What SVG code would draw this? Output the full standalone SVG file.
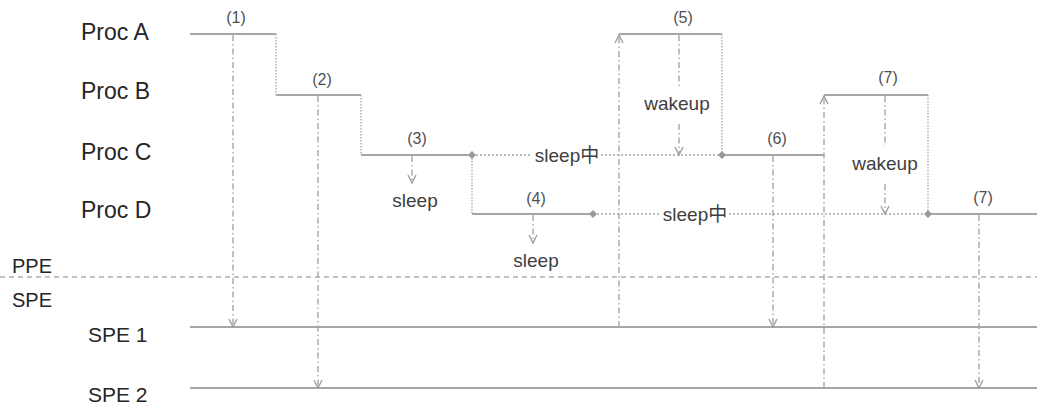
<svg xmlns="http://www.w3.org/2000/svg" width="1037" height="405" viewBox="0 0 1037 405">
  <style>
    .lane { font-family: "Liberation Sans", Arial, sans-serif; font-size: 23px; fill: #262626; }
    .spe { font-family: "Liberation Sans", Arial, sans-serif; font-size: 21px; fill: #262626; }
    .side { font-family: "Liberation Sans", Arial, sans-serif; font-size: 20px; fill: #262626; }
    .num { font-family: "Liberation Sans", Arial, sans-serif; font-size: 16px; fill: #505050; text-anchor: middle; }
    .note { font-family: "Liberation Sans", "Noto Sans CJK SC", sans-serif; font-size: 19px; fill: #404040; text-anchor: middle; }
    .run { stroke: #a6a6a6; stroke-width: 2; fill: none; }
    .step { stroke: #b0b0b0; stroke-width: 1.5; stroke-dasharray: 1.5 1.5; fill: none; }
    .idle { stroke: #a6a6a6; stroke-width: 1.5; stroke-dasharray: 2 2; fill: none; }
    .sep { stroke: #b0b0b0; stroke-width: 1.3; stroke-dasharray: 5 4; fill: none; }
    .call { stroke: #a6a6a6; stroke-width: 1.4; stroke-dasharray: 6 3 1.5 3; fill: none; }
    .dot { fill: #999999; }
  </style>
  <defs>
    <marker id="vee" viewBox="0 0 10 10" refX="9" refY="5" markerWidth="10" markerHeight="10" markerUnits="userSpaceOnUse" orient="auto">
      <path d="M1,1 L9,5 L1,9" fill="none" stroke="#a0a0a0" stroke-width="1.4"/>
    </marker>
  </defs>

  <!-- PPE / SPE boundary -->
  <line class="sep" x1="0" y1="277" x2="1037" y2="277"/>
  <text class="side" x="12" y="273">PPE</text>
  <text class="side" x="12" y="307">SPE</text>

  <!-- lanes -->
  <g id="proc-a">
    <text class="lane" x="81" y="40">Proc A</text>
    <line class="run" x1="190" y1="34" x2="276" y2="34"/>
    <line class="run" x1="619" y1="34" x2="722" y2="34"/>
  </g>
  <g id="proc-b">
    <text class="lane" x="81" y="99">Proc B</text>
    <line class="run" x1="276" y1="95" x2="361" y2="95"/>
    <line class="run" x1="824" y1="95" x2="928" y2="95"/>
  </g>
  <g id="proc-c">
    <text class="lane" x="81" y="160">Proc C</text>
    <line class="run" x1="361" y1="155" x2="472" y2="155"/>
    <line class="idle" x1="472" y1="155" x2="532" y2="155"/>
    <line class="idle" x1="601" y1="155" x2="722" y2="155"/>
    <text class="note" x="567" y="162">sleep中</text>
    <line class="run" x1="722" y1="155" x2="824" y2="155"/>
  </g>
  <g id="proc-d">
    <text class="lane" x="81" y="218">Proc D</text>
    <line class="run" x1="472" y1="214" x2="593" y2="214"/>
    <line class="idle" x1="593" y1="214" x2="660" y2="214"/>
    <line class="idle" x1="729" y1="214" x2="928" y2="214"/>
    <text class="note" x="695" y="221">sleep中</text>
    <line class="run" x1="928" y1="214" x2="1037" y2="214"/>
  </g>
  <g id="spe-1">
    <text class="spe" x="88" y="342">SPE 1</text>
    <line class="run" x1="190" y1="327" x2="1037" y2="327"/>
  </g>
  <g id="spe-2">
    <text class="spe" x="88" y="402">SPE 2</text>
    <line class="run" x1="190" y1="388" x2="1037" y2="388"/>
  </g>

  <!-- context switches between lanes -->
  <g id="switches">
    <line class="step" x1="276" y1="34" x2="276" y2="95"/>
    <line class="step" x1="361" y1="95" x2="361" y2="155"/>
    <line class="step" x1="472" y1="155" x2="472" y2="214"/>
    <line class="step" x1="722" y1="34" x2="722" y2="155"/>
    <line class="step" x1="928" y1="95" x2="928" y2="214"/>
    <path class="dot" d="M472,151 L476,155 L472,159 L468,155 Z"/>
    <path class="dot" d="M593,210 L597,214 L593,218 L589,214 Z"/>
    <path class="dot" d="M722,151 L726,155 L722,159 L718,155 Z"/>
    <path class="dot" d="M928,210 L932,214 L928,218 L924,214 Z"/>
  </g>

  <!-- requests, sleeps and wakeups -->
  <g id="connectors">
    <line class="call" x1="233" y1="35" x2="233" y2="327" marker-end="url(#vee)"/>
    <line class="call" x1="318" y1="96" x2="318" y2="388" marker-end="url(#vee)"/>
    <line class="call" x1="412" y1="156" x2="412" y2="183" marker-end="url(#vee)"/>
    <line class="call" x1="533" y1="215" x2="533" y2="243" marker-end="url(#vee)"/>
    <line class="call" x1="619" y1="327" x2="619" y2="35" marker-end="url(#vee)"/>
    <line class="call" x1="679" y1="35" x2="679" y2="88"/>
    <line class="call" x1="679" y1="124" x2="679" y2="155" marker-end="url(#vee)"/>
    <line class="call" x1="773" y1="156" x2="773" y2="327" marker-end="url(#vee)"/>
    <line class="call" x1="824" y1="388" x2="824" y2="96" marker-end="url(#vee)"/>
    <line class="call" x1="885" y1="96" x2="885" y2="146"/>
    <line class="call" x1="885" y1="184" x2="885" y2="214" marker-end="url(#vee)"/>
    <line class="call" x1="979" y1="215" x2="979" y2="388" marker-end="url(#vee)"/>
  </g>

  <!-- step labels -->
  <g id="labels">
    <text class="num" x="236" y="23">(1)</text>
    <text class="num" x="322" y="85">(2)</text>
    <text class="num" x="417" y="144">(3)</text>
    <text class="num" x="536" y="204">(4)</text>
    <text class="num" x="683" y="23">(5)</text>
    <text class="num" x="777" y="144">(6)</text>
    <text class="num" x="888" y="83">(7)</text>
    <text class="num" x="983" y="203">(7)</text>
    <text class="note" x="415" y="207">sleep</text>
    <text class="note" x="536" y="267">sleep</text>
    <text class="note" x="677" y="110">wakeup</text>
    <text class="note" x="885" y="170">wakeup</text>
  </g>
</svg>
